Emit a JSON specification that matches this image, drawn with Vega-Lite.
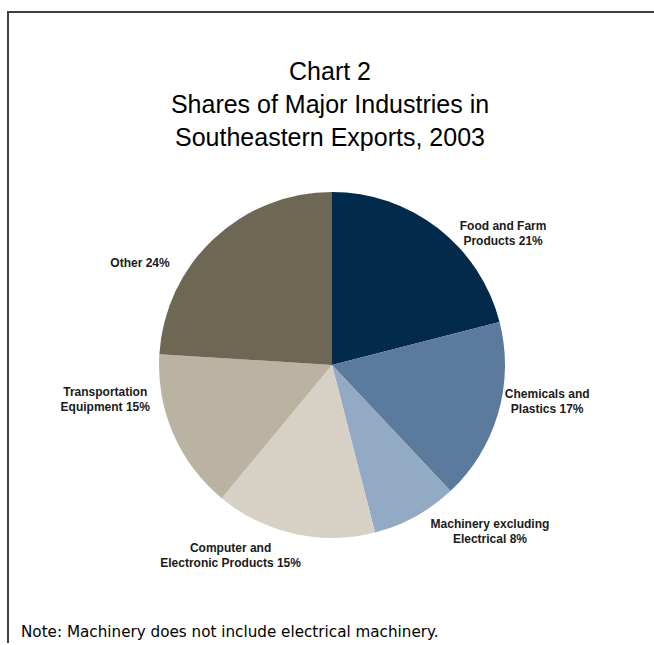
{
  "$schema": "https://vega.github.io/schema/vega-lite/v6.json",
  "autosize": {"type": "pad"},
  "padding": {"left": 7, "top": 11, "right": 2, "bottom": -76},
  "background": "white",
  "title": {
    "text": ["Chart 2", "Shares of Major Industries in", "Southeastern Exports, 2003"],
    "font": "Liberation Sans",
    "fontSize": 25,
    "fontWeight": "normal",
    "lineHeight": 33,
    "color": "#000000",
    "anchor": "middle",
    "frame": "group",
    "baseline": "top",
    "offset": -140,
    "dx": -2
  },
  "data": {
    "values": [
      {"industry": "Food and Farm Products", "share": 21, "label": "Food and Farm\nProducts 21%", "k": 1},
      {"industry": "Chemicals and Plastics", "share": 17, "label": "Chemicals and\nPlastics 17%", "k": 2},
      {"industry": "Machinery excluding Electrical", "share": 8, "label": "Machinery excluding\nElectrical 8%", "k": 3},
      {"industry": "Computer and Electronic Products", "share": 15, "label": "Computer and\nElectronic Products 15%", "k": 4},
      {"industry": "Transportation Equipment", "share": 15, "label": "Transportation\nEquipment 15%", "k": 5},
      {"industry": "Other", "share": 24, "label": "Other 24%", "k": 6}
    ]
  },
  "vconcat": [
    {
      "width": 648,
      "height": 706,
      "title": {
        "text": "Note: Machinery does not include electrical machinery.",
        "orient": "bottom",
        "anchor": "start",
        "frame": "group",
        "font": "DejaVu Sans",
        "fontSize": 15.2,
        "fontWeight": "normal",
        "color": "#000000",
        "baseline": "top",
        "offset": -94,
        "dx": 13
      },
      "encoding": {
        "theta": {"field": "share", "type": "quantitative", "stack": true},
        "order": {"field": "k", "type": "quantitative"}
      },
      "layer": [
        {
          "data": {"values": [{"frame": 1}]},
          "mark": {"type": "rect", "filled": false, "stroke": "#404040", "strokeWidth": 2},
          "encoding": {"theta": null, "order": null}
        },
        {
          "mark": {"type": "arc", "outerRadius": 173},
          "encoding": {
            "color": {
              "field": "industry",
              "type": "nominal",
              "scale": {
                "domain": ["Food and Farm Products", "Chemicals and Plastics", "Machinery excluding Electrical", "Computer and Electronic Products", "Transportation Equipment", "Other"],
                "range": ["#022b4b", "#5b7a9c", "#93aac4", "#d7d1c5", "#bbb3a1", "#6e6753"]
              },
              "legend": null
            }
          }
        },
        {
          "mark": {"type": "text", "radius": 222, "font": "Liberation Sans", "fontWeight": "bold", "fontSize": 12, "lineBreak": "\n", "lineHeight": 15, "align": "center", "baseline": "middle", "fill": "#1a1a1a", "dx": 35, "dy": 36},
          "encoding": {
            "text": {"condition": {"test": "datum.k === 1", "field": "label"}, "value": ""},
            "detail": {"field": "industry", "type": "nominal"}
          }
        },
        {
          "mark": {"type": "text", "radius": 222, "font": "Liberation Sans", "fontWeight": "bold", "fontSize": 12, "lineBreak": "\n", "lineHeight": 15, "align": "center", "baseline": "middle", "fill": "#1a1a1a", "dx": 2, "dy": -33},
          "encoding": {
            "text": {"condition": {"test": "datum.k === 2", "field": "label"}, "value": ""},
            "detail": {"field": "industry", "type": "nominal"}
          }
        },
        {
          "mark": {"type": "text", "radius": 222, "font": "Liberation Sans", "fontWeight": "bold", "fontSize": 12, "lineBreak": "\n", "lineHeight": 15, "align": "center", "baseline": "middle", "fill": "#1a1a1a", "dx": 51, "dy": -36},
          "encoding": {
            "text": {"condition": {"test": "datum.k === 3", "field": "label"}, "value": ""},
            "detail": {"field": "industry", "type": "nominal"}
          }
        },
        {
          "mark": {"type": "text", "radius": 222, "font": "Liberation Sans", "fontWeight": "bold", "fontSize": 12, "lineBreak": "\n", "lineHeight": 15, "align": "center", "baseline": "middle", "fill": "#1a1a1a", "dx": -53, "dy": -34},
          "encoding": {
            "text": {"condition": {"test": "datum.k === 4", "field": "label"}, "value": ""},
            "detail": {"field": "industry", "type": "nominal"}
          }
        },
        {
          "mark": {"type": "text", "radius": 222, "font": "Liberation Sans", "fontWeight": "bold", "fontSize": 12, "lineBreak": "\n", "lineHeight": 15, "align": "center", "baseline": "middle", "fill": "#1a1a1a", "dx": -23, "dy": -61},
          "encoding": {
            "text": {"condition": {"test": "datum.k === 5", "field": "label"}, "value": ""},
            "detail": {"field": "industry", "type": "nominal"}
          }
        },
        {
          "mark": {"type": "text", "radius": 222, "font": "Liberation Sans", "fontWeight": "bold", "fontSize": 12, "lineBreak": "\n", "lineHeight": 15, "align": "center", "baseline": "middle", "fill": "#1a1a1a", "dx": -40, "dy": 60},
          "encoding": {
            "text": {"condition": {"test": "datum.k === 6", "field": "label"}, "value": ""},
            "detail": {"field": "industry", "type": "nominal"}
          }
        }
      ]
    }
  ],
  "config": {
    "view": {"stroke": null},
    "concat": {"spacing": 0}
  }
}
